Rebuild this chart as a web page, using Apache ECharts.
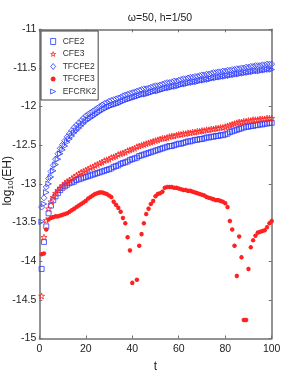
<!DOCTYPE html>
<html>
<head>
<meta charset="utf-8">
<script src="https://cdn.jsdelivr.net/npm/echarts@6/dist/echarts.min.js"></script>
<style>
html,body{margin:0;padding:0;background:#fff;}
#c{width:300px;height:382px;}
</style>
</head>
<body>
<div id="c"></div>
<script>
var t = [1,2,3,4,5,6,7,8,9,10,11,12,13,14,15,16,17,18,19,20,21,22,23,24,25,26,27,28,29,30,31,32,33,34,35,36,37,38,39,40,41,42,43,44,45,46,47,48,49,50,51,52,53,54,55,56,57,58,59,60,61,62,63,64,65,66,67,68,69,70,71,72,73,74,75,76,77,78,79,80,81,82,83,84,85,86,87,88,89,90,91,92,93,94,95,96,97,98,99,100];

var cfe2 = [-14.10,-13.75,-13.55,-13.38,-13.28,-13.21,-13.16,-13.12,-13.08,-13.05,-13.03,-13.01,-12.99,-12.98,-12.97,-12.95,-12.94,-12.93,-12.92,-12.91,-12.90,-12.89,-12.88,-12.87,-12.86,-12.85,-12.84,-12.83,-12.82,-12.81,-12.80,-12.78,-12.77,-12.76,-12.74,-12.73,-12.72,-12.71,-12.69,-12.68,-12.67,-12.66,-12.64,-12.63,-12.62,-12.61,-12.60,-12.59,-12.58,-12.57,-12.56,-12.55,-12.54,-12.53,-12.52,-12.51,-12.51,-12.50,-12.49,-12.48,-12.48,-12.47,-12.46,-12.45,-12.45,-12.44,-12.43,-12.43,-12.42,-12.42,-12.41,-12.40,-12.40,-12.39,-12.39,-12.38,-12.38,-12.37,-12.37,-12.36,-12.35,-12.33,-12.32,-12.31,-12.30,-12.29,-12.28,-12.27,-12.26,-12.26,-12.25,-12.25,-12.24,-12.24,-12.23,-12.23,-12.22,-12.22,-12.21,-12.21];

var cfe3 = [-14.45,-13.69,-13.47,-13.32,-13.23,-13.17,-13.12,-13.08,-13.05,-13.02,-12.99,-12.97,-12.95,-12.93,-12.91,-12.89,-12.87,-12.85,-12.84,-12.82,-12.81,-12.79,-12.78,-12.76,-12.75,-12.73,-12.72,-12.70,-12.69,-12.68,-12.66,-12.65,-12.64,-12.62,-12.61,-12.60,-12.59,-12.57,-12.56,-12.55,-12.54,-12.52,-12.51,-12.50,-12.49,-12.48,-12.47,-12.46,-12.45,-12.44,-12.43,-12.42,-12.41,-12.41,-12.40,-12.39,-12.38,-12.38,-12.37,-12.36,-12.36,-12.35,-12.35,-12.34,-12.34,-12.33,-12.33,-12.32,-12.32,-12.31,-12.31,-12.30,-12.30,-12.29,-12.29,-12.28,-12.28,-12.27,-12.27,-12.26,-12.25,-12.24,-12.23,-12.22,-12.21,-12.20,-12.20,-12.19,-12.19,-12.18,-12.18,-12.17,-12.17,-12.17,-12.16,-12.16,-12.16,-12.15,-12.15,-12.15];

var tfcfe2 = [-13.30,-13.18,-13.04,-12.93,-12.84,-12.76,-12.68,-12.61,-12.54,-12.49,-12.44,-12.39,-12.35,-12.31,-12.27,-12.24,-12.21,-12.18,-12.15,-12.12,-12.10,-12.08,-12.06,-12.04,-12.02,-12.00,-11.98,-11.96,-11.95,-11.93,-11.92,-11.91,-11.90,-11.89,-11.88,-11.86,-11.85,-11.84,-11.83,-11.82,-11.81,-11.80,-11.79,-11.78,-11.77,-11.77,-11.76,-11.75,-11.74,-11.73,-11.73,-11.72,-11.71,-11.70,-11.69,-11.69,-11.68,-11.67,-11.67,-11.66,-11.65,-11.64,-11.64,-11.63,-11.62,-11.62,-11.61,-11.61,-11.60,-11.59,-11.59,-11.58,-11.58,-11.57,-11.56,-11.56,-11.55,-11.55,-11.54,-11.54,-11.53,-11.53,-11.52,-11.52,-11.51,-11.51,-11.50,-11.50,-11.49,-11.49,-11.48,-11.48,-11.47,-11.47,-11.47,-11.46,-11.46,-11.45,-11.45,-11.45];

var tfcfe3 = [-13.91,-13.90,-13.59,-13.46,-13.44,-13.43,-13.42,-13.42,-13.41,-13.40,-13.39,-13.38,-13.36,-13.34,-13.32,-13.30,-13.28,-13.26,-13.24,-13.22,-13.19,-13.17,-13.15,-13.13,-13.12,-13.11,-13.11,-13.12,-13.13,-13.15,-13.17,-13.23,-13.27,-13.31,-13.36,-13.44,-13.51,-13.69,-13.86,-14.28,null,-14.24,-13.80,-13.65,-13.51,-13.39,-13.32,-13.26,-13.22,-13.16,-13.13,-13.12,-13.10,-13.05,-13.04,-13.04,-13.04,-13.05,-13.05,-13.06,-13.07,-13.08,-13.08,-13.09,-13.09,-13.10,-13.11,-13.12,-13.13,-13.14,-13.15,-13.17,-13.18,-13.19,-13.20,-13.21,-13.21,-13.22,-13.23,-13.25,-13.30,-13.48,-13.59,-13.80,-14.19,-13.68,-13.95,-14.76,-14.76,-14.10,-13.82,-13.73,-13.67,-13.63,-13.62,-13.61,-13.60,-13.56,-13.51,-13.48];

var efcrk2 = [-13.49,-13.26,-13.11,-13.00,-12.91,-12.83,-12.75,-12.68,-12.61,-12.56,-12.51,-12.46,-12.42,-12.38,-12.34,-12.31,-12.28,-12.25,-12.22,-12.19,-12.17,-12.15,-12.13,-12.11,-12.09,-12.07,-12.05,-12.03,-12.02,-12.00,-11.99,-11.98,-11.97,-11.96,-11.95,-11.93,-11.92,-11.91,-11.90,-11.89,-11.88,-11.87,-11.86,-11.85,-11.84,-11.84,-11.83,-11.82,-11.81,-11.80,-11.80,-11.79,-11.78,-11.77,-11.76,-11.76,-11.75,-11.74,-11.74,-11.73,-11.72,-11.71,-11.71,-11.70,-11.69,-11.69,-11.68,-11.68,-11.67,-11.66,-11.66,-11.65,-11.65,-11.64,-11.63,-11.63,-11.62,-11.62,-11.61,-11.61,-11.60,-11.60,-11.59,-11.59,-11.58,-11.58,-11.57,-11.57,-11.56,-11.56,-11.55,-11.55,-11.54,-11.54,-11.54,-11.53,-11.53,-11.52,-11.52,-11.52];

var seriesNames = ['CFE2','CFE3','TFCFE2','TFCFE3','EFCRK2'];
var titleText = 'ω=50, h=1/50';
var xName = 't';
var yNameParts = ['log', '10', '(EH)'];

function pairs(ys){ return t.map(function(x,i){ return [x, ys[i]]; }); }

var FONT = "'Liberation Sans Narrow','Liberation Sans',Arial,sans-serif";
var FONT_REG = "'Liberation Sans',Arial,sans-serif";
var BLUE = '#2a3aff', RED = '#ff2020';
var STAR = 'path://M50,0L61,35L98,35L68,57L79,91L50,70L21,91L32,57L2,35L39,35Z';
var AST = 'path://M0,5L10,5M5,0L5,10M1.5,1.5L8.5,8.5M1.5,8.5L8.5,1.5';
var RTRI = 'path://M0,0L10,5L0,10Z';
var symbols = ['rect', STAR, 'diamond', AST, RTRI];
var colors = [BLUE, RED, BLUE, RED, BLUE];
var sizes = [5, 6, 6, 4.5, 5.5];
var widths = [0.8, 0.8, 0.8, 1.3, 0.8];

function sc(i, ys){
  return {
    name: seriesNames[i], type: 'scatter', data: pairs(ys), symbol: symbols[i], symbolSize: sizes[i],
    itemStyle: {color: 'rgba(0,0,0,0)', borderColor: colors[i], borderWidth: widths[i], opacity: 1},
    emphasis: {disabled: true}, animation: false, clip: true
  };
}

var legendData = seriesNames.map(function(n, i){
  return {name: n, icon: symbols[i],
    itemStyle: {color: 'rgba(0,0,0,0)', borderColor: colors[i], borderWidth: widths[i]}};
});

var chart = echarts.init(document.getElementById('c'), null, {renderer: 'canvas'});
var axisCol = '#707070';
chart.setOption({
  backgroundColor: '#fff',
  animation: false,
  title: {text: titleText, left: 155, top: 8, textAlign: 'center',
    textStyle: {fontFamily: FONT, fontSize: 10.5, fontWeight: 'normal', color: '#222'}},
  grid: {left: 39.3, right: 28.3, top: 29.3, bottom: 43.5, containLabel: false, outerBoundsMode: 'none'},
  legend: {
    orient: 'vertical', left: 41, top: 31, data: legendData,
    backgroundColor: '#fff', borderColor: '#444', borderWidth: 1, borderRadius: 0,
    padding: [6, 2, 4, 9], itemGap: 3.5, itemWidth: 5, itemHeight: 6,
    textStyle: {fontFamily: FONT, fontSize: 8.5, color: '#333', padding: [0,0,0,2]}
  },
  graphic: [{
    type: 'text', left: 2, top: 156, rotation: Math.PI / 2,
    style: {
      text: '{a|' + yNameParts[0] + '}{s|' + yNameParts[1] + '}{a|' + yNameParts[2] + '}',
      rich: {
        a: {fontFamily: FONT_REG, fontSize: 12, fill: '#222', color: '#222'},
        s: {fontFamily: FONT_REG, fontSize: 8, fill: '#222', color: '#222', padding: [6,0,0,0]}
      }
    }
  }],
  xAxis: [{
    type: 'value', min: 0, max: 100, interval: 20, position: 'bottom',
    name: xName, nameLocation: 'middle', nameGap: 22,
    nameTextStyle: {fontFamily: FONT, fontSize: 12, color: '#222'},
    axisLine: {show: true, onZero: false, lineStyle: {color: axisCol, width: 1.5}},
    axisTick: {show: true, inside: true, length: 3, lineStyle: {color: axisCol}},
    axisLabel: {fontFamily: FONT, fontSize: 10.5, color: '#222', margin: 5},
    splitLine: {show: false}
  },{
    type: 'value', min: 0, max: 100, interval: 20, position: 'top',
    axisLine: {show: true, onZero: false, lineStyle: {color: axisCol, width: 1.5}},
    axisTick: {show: true, inside: true, length: 3, lineStyle: {color: axisCol}},
    axisLabel: {show: false}, splitLine: {show: false}
  }],
  yAxis: [{
    type: 'value', min: -15, max: -11, interval: 0.5, position: 'left',
    axisLine: {show: true, onZero: false, lineStyle: {color: axisCol, width: 1.5}},
    axisTick: {show: true, inside: true, length: 3, lineStyle: {color: axisCol}},
    axisLabel: {fontFamily: FONT, fontSize: 10.5, color: '#222', margin: 3,
      formatter: function(v){ return String(v); }},
    splitLine: {show: false}
  },{
    type: 'value', min: -15, max: -11, interval: 0.5, position: 'right',
    axisLine: {show: true, onZero: false, lineStyle: {color: axisCol, width: 1.5}},
    axisTick: {show: true, inside: true, length: 3, lineStyle: {color: axisCol}},
    axisLabel: {show: false}, splitLine: {show: false}
  }],
  series: [
    sc(0, cfe2), sc(1, cfe3), sc(2, tfcfe2), sc(3, tfcfe3), sc(4, efcrk2)
  ]
});
</script>
</body>
</html>
